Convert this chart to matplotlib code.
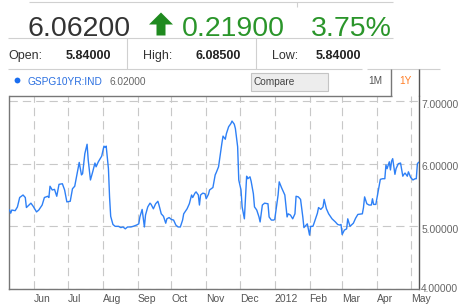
import matplotlib
matplotlib.use('Agg')
import matplotlib.pyplot as plt
from matplotlib.lines import Line2D
from matplotlib.patches import Polygon, Rectangle
from matplotlib.ticker import FormatStrFormatter
from matplotlib.transforms import ScaledTranslation
import pandas as pd

plt.rcParams['font.family'] = ['Liberation Sans', 'DejaVu Sans']

# ---------------- data ----------------
date_strings = [
    '2011-05-10', '2011-05-11', '2011-05-12', '2011-05-15', '2011-05-17', '2011-05-19',
    '2011-05-22', '2011-05-24', '2011-05-25', '2011-05-29', '2011-05-31', '2011-06-03',
    '2011-06-05', '2011-06-08', '2011-06-10', '2011-06-13', '2011-06-14', '2011-06-15',
    '2011-06-17', '2011-06-19', '2011-06-21', '2011-06-23', '2011-06-26', '2011-06-28',
    '2011-06-30', '2011-07-03', '2011-07-05', '2011-07-07', '2011-07-10', '2011-07-11',
    '2011-07-13', '2011-07-14', '2011-07-16', '2011-07-18', '2011-07-19', '2011-07-21',
    '2011-07-23', '2011-07-25', '2011-07-26', '2011-07-28', '2011-07-31', '2011-08-02',
    '2011-08-03', '2011-08-04', '2011-08-06', '2011-08-07', '2011-08-08', '2011-08-10',
    '2011-08-12', '2011-08-15', '2011-08-17', '2011-08-19', '2011-08-21', '2011-08-23',
    '2011-08-26', '2011-08-28', '2011-08-31', '2011-09-02', '2011-09-03', '2011-09-05',
    '2011-09-07', '2011-09-08', '2011-09-10', '2011-09-12', '2011-09-13', '2011-09-15',
    '2011-09-17', '2011-09-19', '2011-09-20', '2011-09-22', '2011-09-24', '2011-09-26',
    '2011-09-27', '2011-09-29', '2011-10-01', '2011-10-03', '2011-10-05', '2011-10-07',
    '2011-10-09', '2011-10-11', '2011-10-12', '2011-10-15', '2011-10-17', '2011-10-19',
    '2011-10-20', '2011-10-22', '2011-10-23', '2011-10-25', '2011-10-26', '2011-10-27',
    '2011-10-29', '2011-10-31', '2011-11-01', '2011-11-03', '2011-11-04', '2011-11-07',
    '2011-11-09', '2011-11-10', '2011-11-12', '2011-11-13', '2011-11-15', '2011-11-16',
    '2011-11-18', '2011-11-19', '2011-11-21', '2011-11-23', '2011-11-24', '2011-11-26',
    '2011-11-27', '2011-11-29', '2011-11-30', '2011-12-02', '2011-12-03', '2011-12-05',
    '2011-12-06', '2011-12-07', '2011-12-08', '2011-12-10', '2011-12-11', '2011-12-13',
    '2011-12-14', '2011-12-16', '2011-12-18', '2011-12-19', '2011-12-21', '2011-12-23',
    '2011-12-26', '2011-12-27', '2011-12-29', '2011-12-31', '2012-01-01', '2012-01-04',
    '2012-01-05', '2012-01-07', '2012-01-10', '2012-01-12', '2012-01-13', '2012-01-15',
    '2012-01-17', '2012-01-19', '2012-01-20', '2012-01-22', '2012-01-24', '2012-01-26',
    '2012-01-27', '2012-01-29', '2012-01-30', '2012-02-01', '2012-02-02', '2012-02-04',
    '2012-02-05', '2012-02-08', '2012-02-09', '2012-02-11', '2012-02-13', '2012-02-14',
    '2012-02-16', '2012-02-18', '2012-02-21', '2012-02-24', '2012-02-26', '2012-02-28',
    '2012-02-29', '2012-03-01', '2012-03-03', '2012-03-05', '2012-03-06', '2012-03-08',
    '2012-03-11', '2012-03-13', '2012-03-15', '2012-03-19', '2012-03-20', '2012-03-21',
    '2012-03-23', '2012-03-25', '2012-03-27', '2012-03-28', '2012-03-29', '2012-03-31',
    '2012-04-02', '2012-04-04', '2012-04-06', '2012-04-08', '2012-04-09', '2012-04-10',
    '2012-04-12', '2012-04-13', '2012-04-14', '2012-04-15', '2012-04-17', '2012-04-18',
    '2012-04-20', '2012-04-22', '2012-04-24', '2012-04-25', '2012-04-26', '2012-04-28',
    '2012-04-29', '2012-05-01', '2012-05-03', '2012-05-05', '2012-05-06', '2012-05-07',
    '2012-05-08',
]
yield_values = [
    5.26, 5.21, 5.26, 5.25, 5.31, 5.46,
    5.50, 5.46, 5.30, 5.37, 5.32, 5.23,
    5.26, 5.34, 5.46, 5.48, 5.46, 5.64,
    5.58, 5.59, 5.48, 5.67, 5.68, 5.58,
    5.39, 5.40, 5.60, 5.64, 5.92, 6.02,
    5.82, 5.84, 6.16, 6.31, 6.06, 5.74,
    5.87, 6.01, 5.95, 6.03, 6.12, 6.28,
    6.26, 6.28, 5.92, 5.47, 5.16, 5.03,
    5.00, 5.00, 4.98, 4.99, 4.96, 4.99,
    4.99, 5.00, 5.02, 5.04, 5.15, 5.27,
    4.99, 5.18, 5.31, 5.37, 5.35, 5.28,
    5.36, 5.40, 5.34, 5.20, 5.16, 5.05,
    5.12, 5.14, 5.11, 5.10, 5.02, 4.99,
    4.99, 5.10, 5.20, 5.28, 5.36, 5.50,
    5.46, 5.53, 5.55, 5.50, 5.34, 5.50,
    5.53, 5.52, 5.44, 5.51, 5.58, 5.62,
    5.82, 5.86, 5.95, 6.08, 6.33, 6.44,
    6.39, 6.48, 6.59, 6.64, 6.68, 6.63,
    6.56, 6.27, 5.74, 5.58, 5.31, 5.12,
    5.47, 5.80, 5.76, 5.79, 5.72, 5.52,
    5.31, 5.26, 5.15, 5.07, 5.34, 5.37,
    5.36, 5.15, 5.10, 5.10, 5.11, 5.50,
    5.71, 5.62, 5.50, 5.15, 5.20, 5.18,
    5.12, 5.20, 5.48, 5.47, 5.43, 5.15,
    4.98, 5.02, 5.04, 4.86, 5.00, 5.00,
    5.05, 5.21, 5.30, 5.27, 5.31, 5.43,
    5.28, 5.20, 5.12, 5.07, 5.03, 5.02,
    5.03, 4.87, 4.94, 4.96, 5.12, 5.00,
    5.05, 5.13, 5.19, 5.20, 5.30, 5.47,
    5.36, 5.34, 5.34, 5.44, 5.35, 5.35,
    5.55, 5.75, 5.76, 5.76, 5.98, 5.92,
    6.03, 5.90, 6.04, 6.08, 5.83, 5.92,
    6.00, 6.01, 5.80, 5.83, 5.85, 5.80,
    5.87, 5.78, 5.74, 5.76, 5.76, 6.00,
    6.02,
]
month_tick_dates = ['2011-06-01', '2011-07-01', '2011-08-01', '2011-09-01', '2011-10-01',
                    '2011-11-01', '2011-12-01', '2012-01-01', '2012-02-01', '2012-03-01',
                    '2012-04-01', '2012-05-01']
month_tick_labels = ['Jun', 'Jul', 'Aug', 'Sep', 'Oct', 'Nov', 'Dec', '2012', 'Feb', 'Mar',
                     'Apr', 'May']
y_ticks = [4.0, 5.0, 6.0, 7.0]

last_price = '6.06200'
change = '0.21900'
change_pct = '3.75%'
open_price = '5.84000'
high_price = '6.08500'
low_price = '5.84000'
ticker = 'GSPG10YR:IND'
ticker_value = '6.02000'

# ---------------- figure ----------------
W, H = 465, 304
fig = plt.figure(figsize=(W / 100, H / 100), dpi=100)
fig.patch.set_facecolor('white')


def fx(x):
    return x / W


def fy(y):
    return 1 - y / H


def hline(x0, x1, y, color, lw=1.0):
    fig.add_artist(Line2D([fx(x0), fx(x1)], [fy(y), fy(y)], transform=fig.transFigure,
                          color=color, lw=lw, solid_capstyle='butt'))


def vline(x, y0, y1, color, lw=1.0):
    fig.add_artist(Line2D([fx(x), fx(x)], [fy(y0), fy(y1)], transform=fig.transFigure,
                          color=color, lw=lw, solid_capstyle='butt'))


# --- header ---
hline(29, 393, 2.3, '#d0d0d0', 0.8)
vline(297, 2.3, 7, '#d0d0d0', 0.8)

fig.text(fx(27), fy(36), last_price, fontsize=20.5, color='#333333', va='baseline', ha='left')
arrow = [(149, 24.5), (161, 12.5), (173, 24.5), (165.5, 24.5), (165.5, 35.5),
         (156.5, 35.5), (156.5, 24.5)]
fig.add_artist(Polygon([(fx(a), fy(b)) for a, b in arrow], closed=True,
                       transform=fig.transFigure, facecolor='#1f8a1f', edgecolor='none'))
fig.text(fx(182), fy(36), change, fontsize=20.5, color='#2a952a', va='baseline', ha='left')
fig.text(fx(311), fy(36), change_pct, fontsize=20.5, color='#2a952a', va='baseline', ha='left')

hline(8, 393, 38, '#d0d0d0', 0.8)
vline(127, 38, 69, '#d0d0d0', 0.8)
vline(256, 38, 69, '#d0d0d0', 0.8)
hline(8, 362, 69, '#d0d0d0', 0.8)
hline(367, 440, 69, '#d0d0d0', 0.8)

stat_font = 9
fig.text(fx(8), fy(59), 'Open:', fontsize=stat_font, color='#333333', va='baseline')
fig.text(fx(66), fy(59), open_price, fontsize=stat_font, color='#222222', va='baseline',
         fontweight='bold')
fig.text(fx(143), fy(59), 'High:', fontsize=stat_font, color='#333333', va='baseline')
fig.text(fx(195), fy(59), high_price, fontsize=stat_font, color='#222222', va='baseline',
         fontweight='bold')
fig.text(fx(272), fy(59), 'Low:', fontsize=stat_font, color='#333333', va='baseline')
fig.text(fx(316), fy(59), low_price, fontsize=stat_font, color='#222222', va='baseline',
         fontweight='bold')

# --- legend / controls row ---
fig.add_artist(Line2D([fx(17)], [fy(79.5)], transform=fig.transFigure, marker='o',
                      markersize=4.2, markerfacecolor='#1a6ef0', markeredgecolor='none',
                      linestyle='none'))
fig.text(fx(27), fy(85), ticker, fontsize=7.3, color='#2a6fe0', va='baseline')
fig.text(fx(109), fy(85), ticker_value, fontsize=7.3, color='#666666', va='baseline')

fig.add_artist(Rectangle((fx(251), fy(90.5)), (328 - 251) / W, (90.5 - 73) / H,
                         transform=fig.transFigure, facecolor='#ededed',
                         edgecolor='#c4c4c4', lw=0.8))
fig.text(fx(253.5), fy(85), 'Compare', fontsize=7.3, color='#444444', va='baseline')
fig.text(fx(368), fy(84), '1M', fontsize=7.3, color='#555555', va='baseline')
fig.text(fx(399), fy(84), '1Y', fontsize=7.3, color='#ff7f27', va='baseline')
vline(391, 69, 96, '#777777', 1.0)
vline(419, 69, 96, '#555555', 1.0)
hline(9, 391.5, 96, '#777777', 1.0)

# --- chart ---
ax = fig.add_axes([fx(9), fy(289), (419 - 9) / W, (289 - 96) / H])
dates = pd.to_datetime(date_strings)
ax.plot(dates, yield_values, color='#2e80f6', lw=1.0, solid_joinstyle='round', zorder=3)

ax.set_xlim(pd.Timestamp('2011-05-09 12:00'), pd.Timestamp('2012-05-08 10:00'))
ax.set_ylim(4.0, 7.08)

ax.set_xticks(pd.to_datetime(month_tick_dates))
ax.set_xticklabels(month_tick_labels, ha='left')
ax.tick_params(axis='x', length=0, pad=3.5, labelsize=7.5, labelcolor='#555555')

ax.yaxis.tick_right()
ax.set_yticks(y_ticks)
ax.yaxis.set_major_formatter(FormatStrFormatter('%.5f'))
ax.tick_params(axis='y', length=0, pad=1.5, labelsize=7.4, labelcolor='#666666')
for val, lab in zip(y_ticks, ax.get_yticklabels()):
    shift = 1.0 if val == y_ticks[0] else -2.5
    lab.set_transform(lab.get_transform() + ScaledTranslation(0, shift / 100, fig.dpi_scale_trans))

ax.grid(True, color='#c8c8c8', linestyle=(0, (7.5, 4.5)), lw=0.8)
ax.set_axisbelow(True)

ax.spines['top'].set_visible(False)
ax.spines['left'].set_color('#777777')
ax.spines['bottom'].set_color('#777777')
ax.spines['right'].set_color('#555555')
for s in ['left', 'bottom', 'right']:
    ax.spines[s].set_linewidth(1.0)

fig.savefig('out.png', dpi=100, facecolor='white')
